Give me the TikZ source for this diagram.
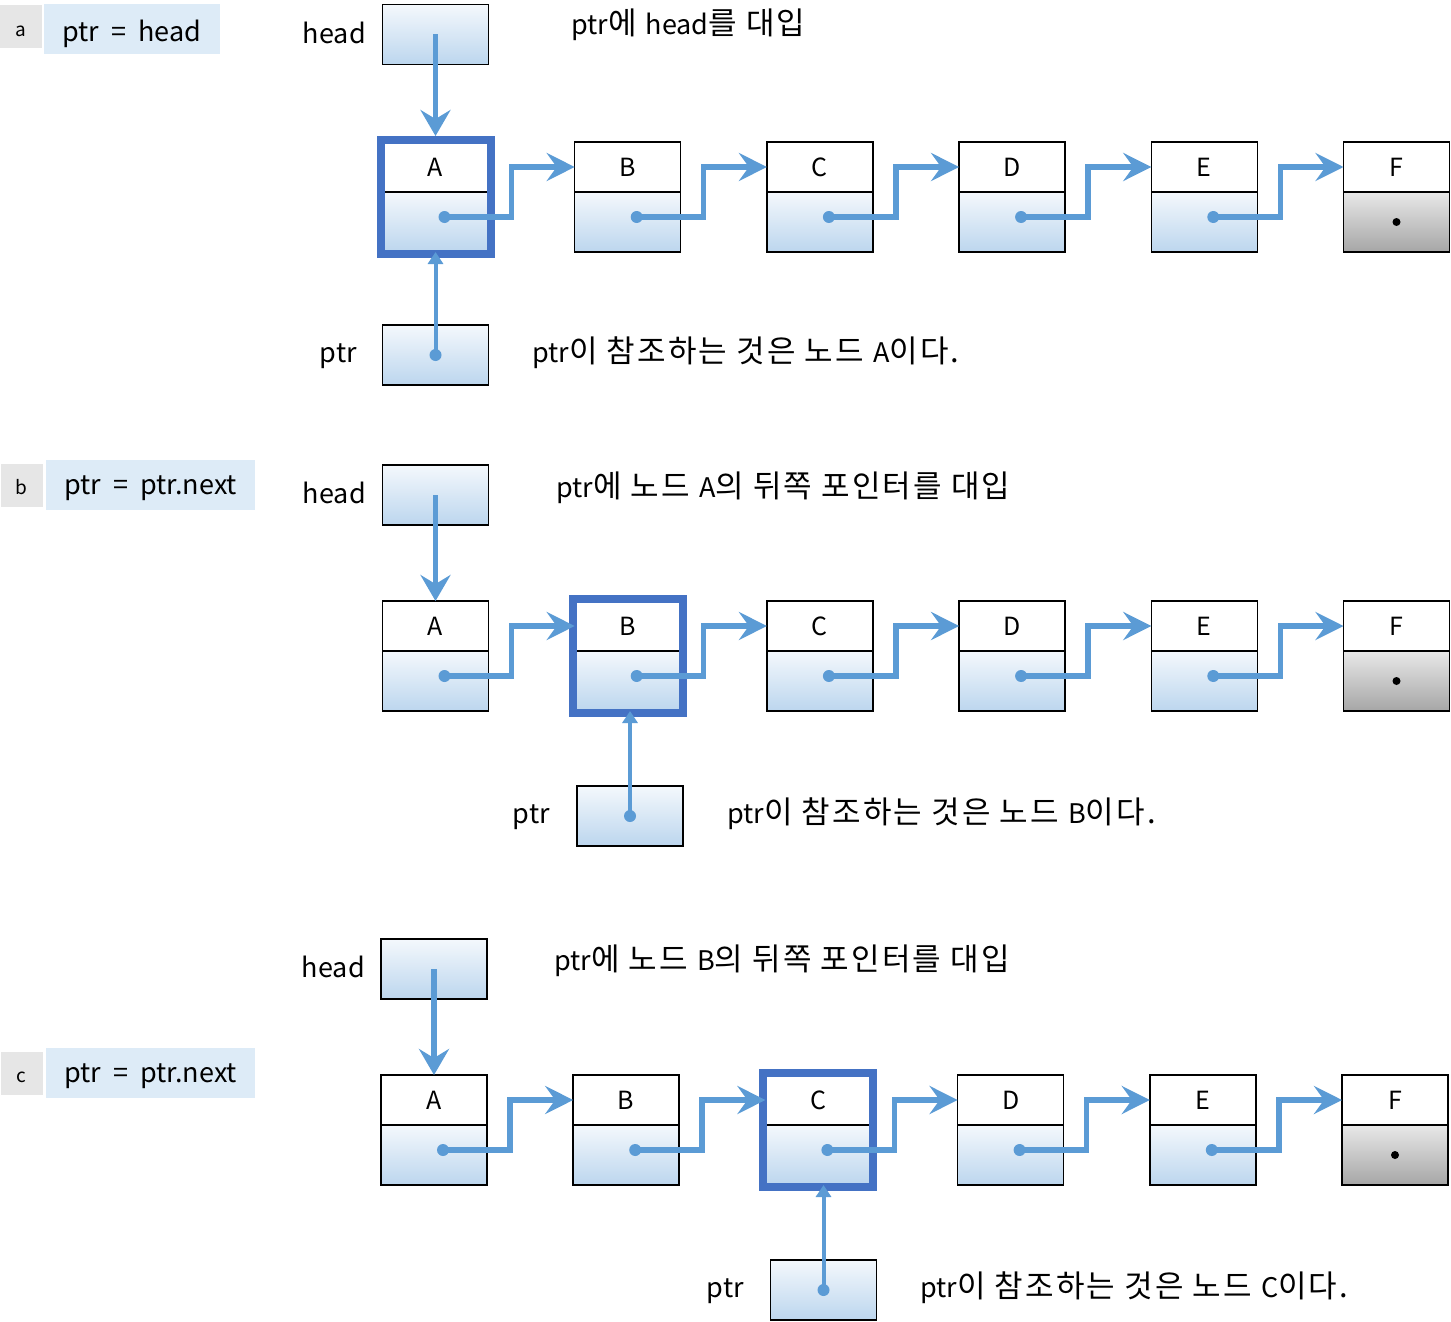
\documentclass[tikz,border=0pt]{standalone}
\usepackage{fontspec}
\setmainfont{Noto Sans CJK KR}
\newfontfamily\kofont{Noto Sans CJK KR}[LetterSpace=7]
\usetikzlibrary{arrows.meta,fit}
\definecolor{ptrblue}{HTML}{5B9BD5}
\definecolor{hiblue}{HTML}{4472C4}
\definecolor{cmdfill}{HTML}{DDEBF7}
\definecolor{tagfill}{HTML}{E6E6E6}
\definecolor{gradtop}{HTML}{F4F8FC}
\definecolor{gradbot}{HTML}{BCD6EE}
\definecolor{nulltop}{HTML}{E8E8E8}
\definecolor{nullbot}{HTML}{A6A6A6}
\newcommand{\ko}[1]{{\kofont\fontsize{31}{36}\selectfont #1}}
\tikzset{
  cell/.style={draw, line width=1.5pt, minimum width=106pt, outer sep=0pt, inner sep=0pt},
  celltop/.style={cell, minimum height=50pt, fill=white, font=\fontsize{25}{30}\selectfont},
  cellbot/.style={cell, minimum height=60pt, top color=gradtop, bottom color=gradbot},
  nullbot/.style={cell, minimum height=60pt, top color=nulltop, bottom color=nullbot},
  ptrbox/.style={cell, minimum height=60pt, top color=gradtop, bottom color=gradbot},
  dotn/.style={circle, fill=ptrblue, inner sep=0pt, minimum size=12pt},
  nulldot/.style={circle, fill=black, inner sep=0pt, minimum size=8pt},
  nextptr/.style={ptrblue, line width=5.5pt, -{Stealth[length=28pt,width=28pt,inset=10pt]}},
  headptr/.style={ptrblue, line width=5.5pt, -{Stealth[length=26pt,width=30pt,inset=9pt]}},
  refptr/.style={ptrblue, line width=4pt, -{Triangle[length=12pt,width=15pt]}},
  hilite/.style={draw=hiblue, line width=8pt, inner sep=2pt},
  txt/.style={font=\fontsize{27}{32}\selectfont, inner sep=0pt},
  tag/.style={fill=tagfill, minimum width=42pt, minimum height=43pt, inner sep=0pt,
    text height=24pt, text depth=5pt, font=\fontsize{19}{22}\selectfont},
  cmd/.style={txt, fill=cmdfill, minimum height=50pt, text height=26pt, text depth=7pt}
}
\begin{document}
\begin{tikzpicture}[x=1pt, y=-1pt]
    \useasboundingbox (0,0) rectangle (1451,1322);
    % List cells
    \foreach \r/\dy/\dx in {a/0/0, b/459/0, c/933/-1.5} {
      \foreach \n/\s [count=\i from 0] in {A/cellbot, B/cellbot, C/cellbot, D/cellbot, E/cellbot, F/nullbot} {
        \node[celltop] (\r\n) at ({435.5+192.2*\i+\dx}, {167+\dy}) {\n};
        \node[\s, anchor=north] (\r\n-b) at (\r\n.south) {};
      }
      \node[nulldot] (\r F-d) at (\r F-b.center) {};
    }

    % Current node
    \node[hilite, fit=(aA)(aA-b)] (ahl) {};
    \node[hilite, fit=(bB)(bB-b)] (bhl) {};
    \node[hilite, fit=(cC)(cC-b)] (chl) {};

    % Next pointers
    \foreach \r in {a,b,c} {
      \foreach \n/\m in {A/B, B/C, C/D, D/E, E/F} {
        \node[dotn] (\r\n-d) at ([shift={(9,-5)}]\r\n-b.center) {};
        \draw[nextptr] (\r\n-d.center) -- ++(67,0) |- (\r\m.west);
      }
    }

    % Row a: ptr = head
    \node[tag] (atag) at (21,27) {a};
    \node[cmd, minimum width=176pt, text height=32pt, text depth=6.6pt] (acmd) at (132,29) {ptr \ = \ head};
    \node[ptrbox] (ahead) at (435.5,34.5) {};
    \node[txt, anchor=base east] (aheadtxt) at (366,43.3) {head};
    \node[txt, anchor=base west] (anote) at (571,35) {ptr\ko{에 }head\ko{를 대입}};
    \draw[headptr] (ahead.center) -- (ahl.north);
    \node[ptrbox] (aptr) at (435.5,355) {};
    \node[dotn] (aptr-d) at (aptr.center) {};
    \draw[refptr] (aptr-d.center) -- (aptr-d |- aA-b.south);
    \node[txt, anchor=base east] (aptrtxt) at (357,362) {ptr};
    \node[txt, anchor=base west] (aref) at (532,362) {ptr\ko{이 참조하는 것은 노드 }A\ko{이다.}};

    % Row b: ptr = ptr.next
    \node[tag] (btag) at (21.5,485) {b};
    \node[cmd, minimum width=209pt] (bcmd) at (150.5,485) {ptr \ = \ ptr.next};
    \node[ptrbox] (bhead) at (435.5,495) {};
    \node[txt, anchor=base east] (bheadtxt) at (366,503.3) {head};
    \node[txt, anchor=base west] (bnote) at (556,497) {ptr\ko{에 노드 }A\ko{의 뒤쪽 포인터를 대입}};
    \draw[headptr] (bhead.center) -- (bA.north);
    \node[ptrbox] (bptr) at (630,816) {};
    \node[dotn] (bptr-d) at (bptr.center) {};
    \draw[refptr] (bptr-d.center) -- (bptr-d |- bB-b.south);
    \node[txt, anchor=base east] (bptrtxt) at (550,823) {ptr};
    \node[txt, anchor=base west] (bref) at (727,823) {ptr\ko{이 참조하는 것은 노드 }B\ko{이다.}};

    % Row c: ptr = ptr.next
    \node[tag] (ctag) at (21.5,1073) {c};
    \node[cmd, minimum width=209pt] (ccmd) at (150.5,1072.5) {ptr \ = \ ptr.next};
    \node[ptrbox] (chead) at (434,969) {};
    \node[txt, anchor=base east] (cheadtxt) at (365,977) {head};
    \node[txt, anchor=base west] (cnote) at (554,970) {ptr\ko{에 노드 }B\ko{의 뒤쪽 포인터를 대입}};
    \draw[headptr] (chead.center) -- (cA.north);
    \node[ptrbox] (cptr) at (823.5,1290) {};
    \node[dotn] (cptr-d) at (cptr.center) {};
    \draw[refptr] (cptr-d.center) -- (cptr-d |- cC-b.south);
    \node[txt, anchor=base east] (cptrtxt) at (744,1297) {ptr};
    \node[txt, anchor=base west] (cref) at (920,1297) {ptr\ko{이 참조하는 것은 노드 }C\ko{이다.}};
\end{tikzpicture}
\end{document}
